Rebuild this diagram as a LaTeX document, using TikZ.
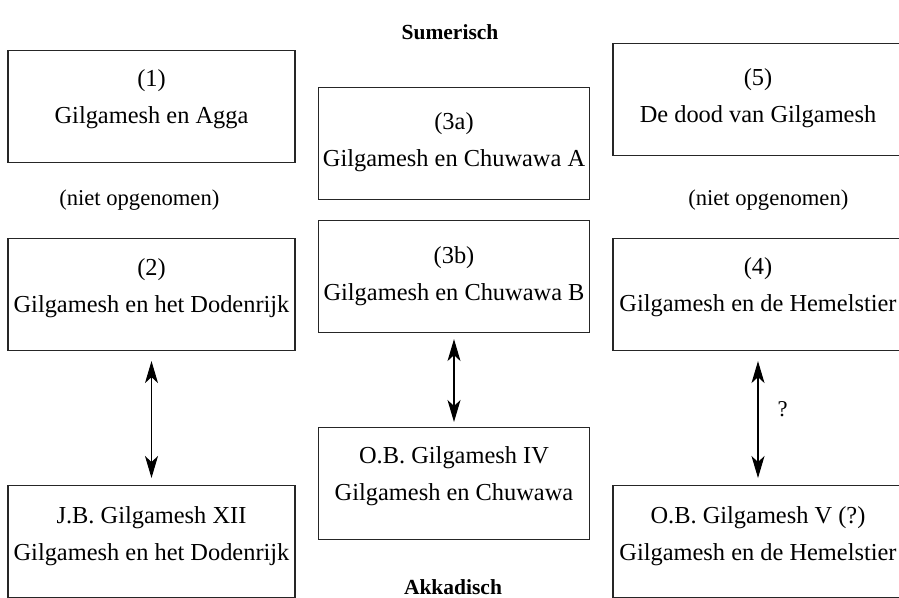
\documentclass[tikz,border=0pt]{standalone}
\usepackage{fontspec}
\setmainfont{Liberation Serif}
\usetikzlibrary{arrows.meta,calc}
\tikzset{
  boxsty/.style={draw=black!85, line width=1.1pt, rectangle, inner sep=0pt, minimum height=112pt},
  txtsty/.style={font=\fontsize{24.4}{29}\selectfont, inner sep=0pt, anchor=base},
  headsty/.style={font=\fontsize{21.5}{25}\bfseries\selectfont, inner sep=0pt, anchor=base},
  notesty/.style={font=\fontsize{22.6}{27}\selectfont, inner sep=0pt, anchor=base},
  dblarrow/.style={line width=1.1pt, {Stealth[length=22pt,width=13pt,inset=6pt]}-{Stealth[length=22pt,width=13pt,inset=6pt]}},
  qlabel/.style={font=\fontsize{22.6}{27}\selectfont, inner sep=0pt}
}
\newcommand\gbox[7]{%
  \node[boxsty, minimum width=#4pt, anchor=north] (#1) at (#2,#3) {};
  \node[txtsty] (#1-a) at ($(#1.north)+(0,#5-37)$) {#6};
  \node[txtsty] (#1-b) at ($(#1.north)+(0,#5)$) {#7};
}
\begin{document}
\begin{tikzpicture}[x=1pt,y=-1pt]
\useasboundingbox (0,0) rectangle (899,597);
\node[headsty] (sum) at (450,39) {Sumerisch};
\node[headsty] (akk) at (453,594) {Akkadisch};
\gbox{b1}{151.5}{50}{287}{73}{(\oldstylenums{1})}{Gilgamesh en Agga}
\gbox{b2}{151.5}{238}{287}{74.5}{(\oldstylenums{2})}{Gilgamesh en het Dodenrijk}
\gbox{bjb}{151.5}{485}{287}{75}{J.B. Gilgamesh XII}{Gilgamesh en het Dodenrijk}
\gbox{b3a}{454}{87}{271}{79}{(\oldstylenums{3}a)}{Gilgamesh en Chuwawa A}
\gbox{b3b}{454}{220}{271}{80}{(\oldstylenums{3}b)}{Gilgamesh en Chuwawa B}
\gbox{bob4}{454}{427}{271}{73}{O.B. Gilgamesh IV}{Gilgamesh en Chuwawa}
\gbox{b5}{758}{43}{290}{79}{(\oldstylenums{5})}{De dood van Gilgamesh}
\gbox{b4}{758}{238}{290}{73.5}{(\oldstylenums{4})}{Gilgamesh en de Hemelstier}
\gbox{bob5}{758}{485}{290}{75}{O.B. Gilgamesh V (?)}{Gilgamesh en de Hemelstier}
\node[notesty] (n1) at (139.3,205) {(niet opgenomen)};
\node[notesty] (n2) at (768.3,205) {(niet opgenomen)};
\draw[dblarrow, shorten <=10pt, shorten >=7pt] (b2.south) -- (bjb.north);
\draw[dblarrow, shorten <=6pt, shorten >=5pt] (b3b.south) -- (bob4.north);
\draw[dblarrow, shorten <=10pt, shorten >=7pt] (b4.south) -- node[qlabel, pos=0.437, right=19pt] (q) {?} (bob5.north);
\end{tikzpicture}
\end{document}
